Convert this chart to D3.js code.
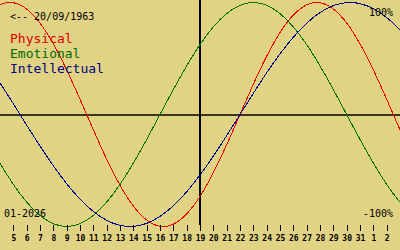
<!DOCTYPE html>
<html>
<head>
<meta charset="utf-8">
<script src="https://cdn.jsdelivr.net/npm/d3@7"></script>
<style>
  body { margin: 0; background: #e1d384; }
  svg { display: block; }
</style>
</head>
<body>
<div id="d3-container"></div>
<script>
// days shown, 3 jan .. 4 feb (first and last fall just outside the frame)
let days = [3, 4, 5, 6, 7, 8, 9, 10, 11, 12, 13, 14, 15, 16, 17, 18, 19, 20, 21, 22,
  23, 24, 25, 26, 27, 28, 29, 30, 31, 1, 2, 3, 4];

// values, -1 .. 1
let physical = [0.888, 0.979, 0.998, 0.942, 0.817, 0.631, 0.398, 0.136, -0.136, -0.398,
  -0.631, -0.817, -0.942, -0.998, -0.979, -0.888, -0.731, -0.520, -0.270, 0, 0.270,
  0.520, 0.731, 0.888, 0.979, 0.998, 0.942, 0.817, 0.631, 0.398, 0.136, -0.136, -0.398];
let emotional = [-0.223, -0.434, -0.624, -0.782, -0.901, -0.975, -1, -0.975, -0.901, -0.782,
  -0.624, -0.434, -0.223, 0, 0.223, 0.434, 0.624, 0.782, 0.901, 0.975, 1,
  0.975, 0.901, 0.782, 0.624, 0.434, 0.223, 0, -0.223, -0.434, -0.624, -0.782, -0.901];
let intellectual = [0.458, 0.282, 0.095, -0.095, -0.282, -0.458, -0.618, -0.756, -0.866, -0.945,
  -0.990, -0.999, -0.972, -0.910, -0.815, -0.690, -0.541, -0.372, -0.189, 0, 0.189,
  0.372, 0.541, 0.690, 0.815, 0.910, 0.972, 0.999, 0.990, 0.945, 0.866, 0.756, 0.618];

let series = [
  { name: "Physical", values: physical, color: "#ee0000", text: "#dd0000" },
  { name: "Emotional", values: emotional, color: "#007000", text: "#006a00" },
  { name: "Intellectual", values: intellectual, color: "#000090", text: "#000080" }
];

let width = 400, height = 250;

let svg = d3.select('#d3-container')
  .append('svg')
  .attr('width', width)
  .attr('height', height)
  .style('background-color', '#e1d384');

// index 1 (4 jan) sits on the left edge, index 31 on the right edge
const x = d3.scaleLinear().domain([1, 31]).range([0, width]);
const y = d3.scaleLinear().domain([-1, 1]).range([226.5, 2.5]);

// zero line and the "today" line
svg.append("line")
  .attr("x1", 0).attr("x2", width)
  .attr("y1", 115).attr("y2", 115)
  .attr("stroke", "black").attr("stroke-width", 1.5);
svg.append("line")
  .attr("x1", 200).attr("x2", 200)
  .attr("y1", 0).attr("y2", 225)
  .attr("stroke", "black").attr("stroke-width", 2);

const line = d3.line()
  .x((d, i) => x(i))
  .y(d => y(d))
  .curve(d3.curveNatural);

svg.selectAll(".curve")
  .data(series)
  .join("path")
    .attr("class", "curve")
    .attr("d", d => line(d.values))
    .attr("fill", "none")
    .attr("stroke", d => d.color)
    .attr("stroke-width", 1)
    .style("shape-rendering", "crispEdges");

// day axis
const tickIdx = d3.range(2, 31);
svg.append("g")
  .attr("transform", "translate(0, 225)")
  .call(d3.axisBottom(x)
    .tickValues(tickIdx)
    .tickFormat(i => days[i])
    .tickSize(6)
    .tickPadding(4))
  .call(g => g.select(".domain").remove())
  .call(g => g.selectAll("line").attr("stroke", "black").style("shape-rendering", "crispEdges"))
  .call(g => g.selectAll("text")
    .attr("fill", "black")
    .style("font-family", "'DejaVu Sans Mono', monospace")
    .style("font-weight", "bold")
    .style("font-size", "8px"));

// texts
const mono = "'DejaVu Sans Mono', monospace";
svg.append("text").attr("x", 10).attr("y", 20)
  .style("font-family", mono).style("font-size", "10px")
  .text("<-- 20/09/1963");

svg.selectAll(".legend")
  .data(series)
  .join("text")
    .attr("class", "legend")
    .attr("x", 10)
    .attr("y", (d, i) => 43 + i * 15)
    .attr("fill", d => d.text)
    .style("font-family", mono)
    .style("font-size", "13px")
    .text(d => d.name);

svg.append("text").attr("x", 393).attr("y", 16)
  .attr("text-anchor", "end")
  .style("font-family", mono).style("font-size", "10px")
  .text("100%");
svg.append("text").attr("x", 393).attr("y", 217)
  .attr("text-anchor", "end")
  .style("font-family", mono).style("font-size", "10px")
  .text("-100%");
svg.append("text").attr("x", 4).attr("y", 217)
  .style("font-family", mono).style("font-size", "10px")
  .text("01-2026");
</script>
</body>
</html>
